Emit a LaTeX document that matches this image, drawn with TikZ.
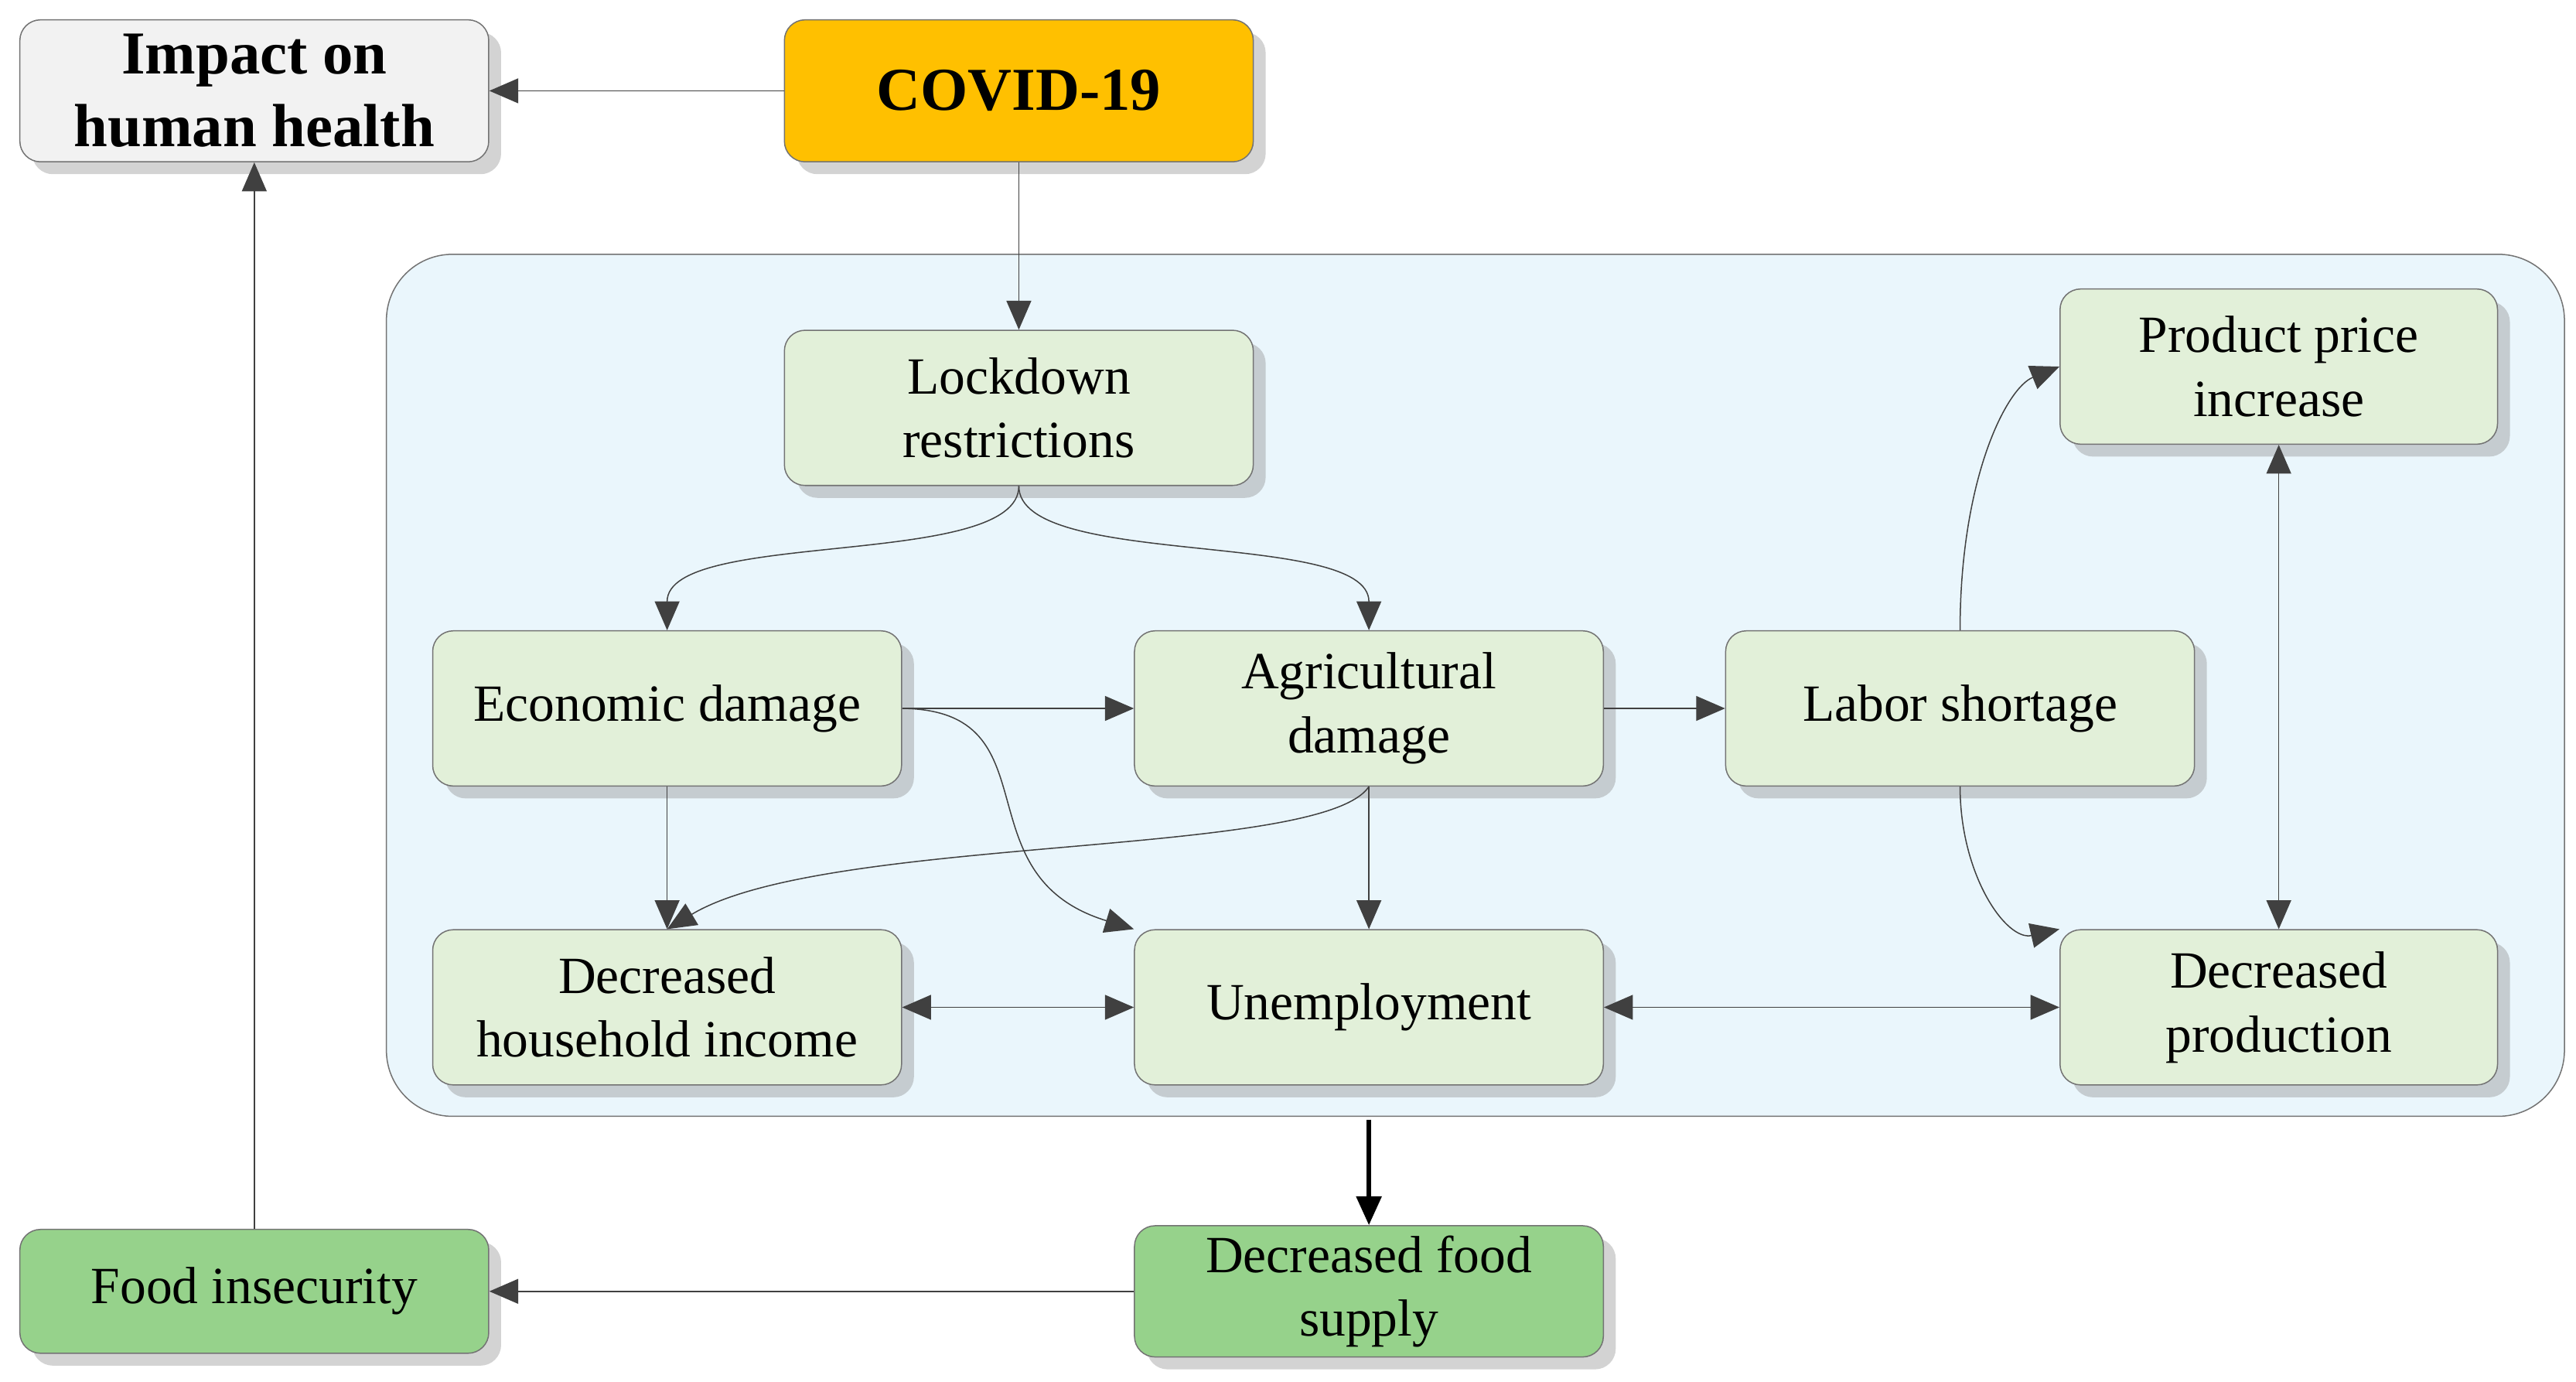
\documentclass[tikz,border=0pt]{standalone}
\usepackage{fontspec}
\setmainfont{Liberation Serif}
\usetikzlibrary{
	arrows.meta,
	shadows,
	positioning,
	calc,
}
\definecolor{paleGreen}{HTML}{E2F0D9}
\definecolor{midGreen}{HTML}{96D28B}
\definecolor{covidOrange}{HTML}{FFC000}
\definecolor{paleBlue}{HTML}{EAF6FC}
\tikzset{effect/.style={
		% The shape:
		rectangle,rounded corners=2.5mm,
		% The size:
		minimum width=5.68cm,minimum height=1.88cm,
		% The border:
		draw=black!55,thin,
		% The filling:
		fill=paleGreen,
		% text
		align=center,font=\fontsize{18}{22}\selectfont,
		drop shadow={opacity=0.35,shadow xshift=1.5mm,shadow yshift=-1.5mm},
}}
\tikzset{outcome/.style={
		effect,fill=midGreen,minimum height=1.5cm,
}}
\tikzset{headline/.style={
		effect,fill=black!5,minimum height=1.72cm,
		font=\fontsize{21}{25}\selectfont\bfseries,
}}
\begin{document}
\begin{tikzpicture}[x=0.02cm,y=0.02cm,>={Triangle[length=3.5mm,width=3mm]},
	black!75,text=black]
	\useasboundingbox (0,0) rectangle (1560,-836.5);
	% background box
	\draw[black!55,fill=paleBlue,rounded corners=8mm] (234,-154) rectangle (1553,-676);
	\node[headline] (health) at (154,-55) {Impact on\\human health};
	\node[headline,fill=covidOrange] (covid) at (617,-55) {COVID-19};
	\node[effect] (lockdown) at (617,-247) {Lockdown\\restrictions};
	\node[effect] (econ) at (404,-429) {Economic damage};
	\node[effect] (agri) at (829,-429) {Agricultural\\damage};
	\node[effect] (labor) at (1187,-429) {Labor shortage};
	\node[effect,minimum width=5.3cm] (price) at (1380,-222) {Product price\\increase};
	\node[effect] (income) at (404,-610) {Decreased\\household income};
	\node[effect] (unemp) at (829,-610) {Unemployment};
	\node[effect,minimum width=5.3cm] (prod) at (1380,-610) {Decreased\\production};
	\node[outcome] (insec) at (154,-782) {Food insecurity};
	\node[outcome] (supply) at (829,-782) {Decreased food\\supply};
	\coordinate (boxbottom) at (829,-678);
	% connectors
	\draw[->] (covid) -- (health);
	\draw[->] (covid) -- (lockdown);
	\draw[->] (lockdown.south) .. controls (617,-345) and (404,-320) .. (econ.north);
	\draw[->] (lockdown.south) .. controls (617,-345) and (829,-320) .. (agri.north);
	\draw[->] (econ) -- (agri);
	\draw[->] (agri) -- (labor);
	\draw[->] (labor.north) .. controls (1187,-290) and (1215,-235) .. (price.west);
	\draw[->] (labor.south) .. controls (1187,-530) and (1215,-570) .. (prod.north west);
	\draw[<->] (price) -- (prod);
	\draw[->] (econ) -- (income);
	\draw[->] (econ.east) .. controls (640,-430) and (580,-530) .. (unemp.north west);
	\draw[->] (agri) -- (unemp);
	\draw[->] (agri.south) .. controls (800,-520) and (500,-505) .. (income.north);
	\draw[<->] (income) -- (unemp);
	\draw[<->] (unemp) -- (prod);
	\draw[->,line width=1.6pt,black] (boxbottom) -- (supply);
	\draw[->] (supply) -- (insec);
	\draw[->] (insec) -- (health);
\end{tikzpicture}
\end{document}
